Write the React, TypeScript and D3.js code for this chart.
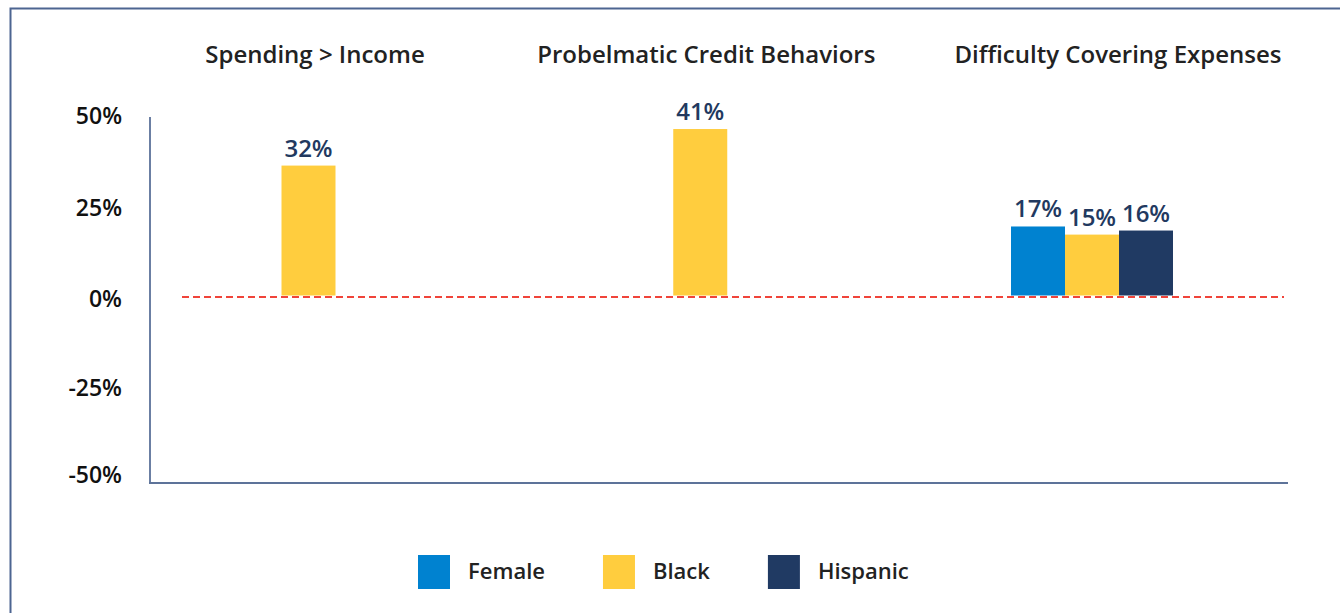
import { useEffect, useRef } from "react";
import * as d3 from "d3";

const categories = ["Spending > Income", "Probelmatic Credit Behaviors", "Difficulty Covering Expenses"];
const seriesNames = ["Female", "Black", "Hispanic"];
const femaleValues: (number | null)[] = [null, null, 17];
const blackValues: (number | null)[] = [32, 41, 15];
const hispanicValues: (number | null)[] = [null, null, 16];
const tickValues = [50, 25, 0, -25, -50];

const COLORS = ["#0082d0", "#ffcd3e", "#203a63"];
const FONT = "'Open Sans', 'Noto Sans', sans-serif";

export default function App() {
  const svgRef = useRef<SVGSVGElement>(null);

  useEffect(() => {
    document.body.style.margin = "0";
    const svg = d3.select(svgRef.current);
    svg.selectAll("*").remove();

    const W = 1340;
    const H = 613;
    svg.attr("width", W).attr("height", H);

    const values = [femaleValues, blackValues, hispanicValues];

    // outer frame (only left + top edges visible)
    svg.append("path")
      .attr("d", `M10.5,${H} V8.5 H${W}`)
      .attr("fill", "none")
      .attr("stroke", "#4d6591")
      .attr("stroke-width", 2);

    // scales
    const x = d3.scalePoint<string>().domain(categories).range([308.5, 1092]);
    const barW = 54;
    const y = d3.scaleLinear().domain([0, 50]).range([295.5, 92.5]);
    // tick labels in the source are spaced a little unevenly
    const tickY = d3.scaleLinear().domain(tickValues).range([116, 208, 299, 387.5, 474.5]);

    // category headers
    const headerShift = [6.5, 6, 26];
    categories.forEach((c, i) => {
      svg.append("text")
        .attr("x", (x(c) ?? 0) + headerShift[i])
        .attr("y", 63)
        .attr("text-anchor", "middle")
        .attr("font-family", FONT)
        .attr("font-weight", 600)
        .attr("font-size", "24px")
        .attr("fill", "#222")
        .text(c);
    });

    // y tick labels
    tickValues.forEach((t) => {
      svg.append("text")
        .attr("x", 122)
        .attr("y", tickY(t))
        .attr("dy", "0.36em")
        .attr("text-anchor", "end")
        .attr("font-family", FONT)
        .attr("font-weight", 600)
        .attr("font-size", "23px")
        .attr("fill", "#111")
        .text(`${t}%`);
    });

    // axes lines
    svg.append("line")
      .attr("x1", 150).attr("x2", 150)
      .attr("y1", 117).attr("y2", 484)
      .attr("stroke", "#6b7fa3").attr("stroke-width", 2);
    svg.append("line")
      .attr("x1", 149).attr("x2", 1288)
      .attr("y1", 483).attr("y2", 483)
      .attr("stroke", "#5d7399").attr("stroke-width", 2);

    // bars
    categories.forEach((c, ci) => {
      const present = seriesNames
        .map((s, si) => ({ s, si, v: values[si][ci] }))
        .filter((d) => d.v !== null) as { s: string; si: number; v: number }[];
      const inner = d3.scaleBand<string>()
        .domain(present.map((d) => d.s))
        .range([(x(c) ?? 0) - (present.length * barW) / 2, (x(c) ?? 0) + (present.length * barW) / 2]);
      present.forEach((d) => {
        svg.append("rect")
          .attr("x", inner(d.s) ?? 0)
          .attr("y", y(d.v))
          .attr("width", inner.bandwidth())
          .attr("height", y(0) - y(d.v))
          .attr("fill", COLORS[d.si]);
        svg.append("text")
          .attr("x", (inner(d.s) ?? 0) + inner.bandwidth() / 2)
          .attr("y", y(d.v) - 9)
          .attr("text-anchor", "middle")
          .attr("font-family", FONT)
          .attr("font-weight", 600)
          .attr("font-size", "24px")
          .attr("fill", "#22395f")
          .text(`${d.v}%`);
      });
    });

    // zero reference line
    svg.append("line")
      .attr("x1", 182).attr("x2", 1284)
      .attr("y1", y(0) + 1.5).attr("y2", y(0) + 1.5)
      .attr("stroke", "#f0443a")
      .attr("stroke-width", 2)
      .attr("stroke-dasharray", "7,4");

    // legend
    let lx = 418;
    seriesNames.forEach((s, i) => {
      svg.append("rect")
        .attr("x", lx).attr("y", 555)
        .attr("width", 32).attr("height", 34)
        .attr("fill", COLORS[i]);
      const t = svg.append("text")
        .attr("x", lx + 50)
        .attr("y", 579)
        .attr("font-family", FONT)
        .attr("font-weight", 600)
        .attr("font-size", "22px")
        .attr("fill", "#222")
        .text(s);
      const tw = (t.node() as SVGTextElement).getComputedTextLength();
      lx = lx + 50 + tw + 58;
    });
  }, []);

  return <svg ref={svgRef} style={{ display: "block" }} />;
}
